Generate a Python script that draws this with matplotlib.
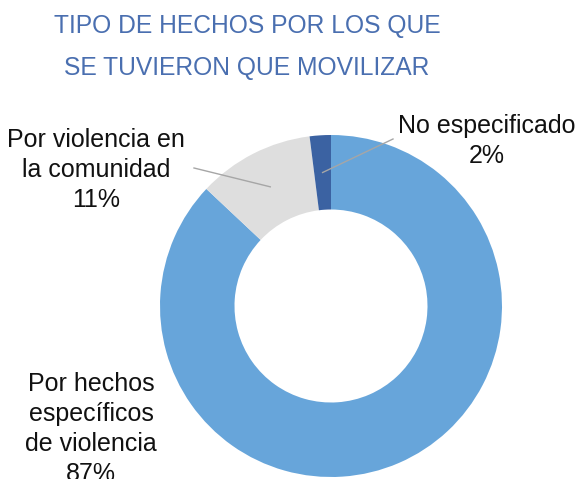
import matplotlib
matplotlib.use("Agg")
import matplotlib.pyplot as plt
import numpy as np

# Data
categories = ["Por hechos\nespecíficos\nde violencia", "Por violencia en\nla comunidad", "No especificado"]
values = [87, 11, 2]
pct_labels = ["87%", "11%", "2%"]
colors = ["#67A5DA", "#DEDEDE", "#3B62A2"]
title = "TIPO DE HECHOS POR LOS QUE\nSE TUVIERON QUE MOVILIZAR"

W, H = 579, 479
fig = plt.figure(figsize=(W / 100, H / 100), dpi=100)
ax = fig.add_axes([0, 0, 1, 1])

cx, cy = 331, H - 306
R = 171
ring = 74.5

wedges, _ = ax.pie(values, colors=colors, startangle=90, counterclock=False,
                   radius=R, center=(cx, cy), frame=True,
                   wedgeprops=dict(width=ring, linewidth=0))
ax.set_xlim(0, W)
ax.set_ylim(0, H)
ax.set_aspect('equal')
ax.axis('off')

label_font = ['Liberation Sans', 'DejaVu Sans']
title_font = ['Liberation Sans', 'DejaVu Sans']

# baseline of last line
ax.text(247, H - 75, title, ha='center', va='baseline', fontsize=17.7,
        color="#4A6FB0", family=title_font, linespacing=1.95)

# label positions (text anchors: last-line baseline)
label_pos = [(91, H - 481), (96, H - 207), (487, H - 163)]
leader_start = [None, (194, H - 168), (393, H - 139)]

r_mid = R - ring / 2
for i, (w, cat, pct) in enumerate(zip(wedges, categories, pct_labels)):
    tx, ty = label_pos[i]
    ax.text(tx, ty, cat + "\n" + pct, ha='center', va='baseline', fontsize=18,
            color="#111111", family=label_font, linespacing=1.32)
    if leader_start[i] is not None:
        ang = np.deg2rad((w.theta1 + w.theta2) / 2)
        px, py = cx + r_mid * np.cos(ang), cy + r_mid * np.sin(ang)
        sx, sy = leader_start[i]
        ax.plot([sx, px], [sy, py], color="#A6A6A6", linewidth=1)

fig.savefig("out.png", dpi=100)
